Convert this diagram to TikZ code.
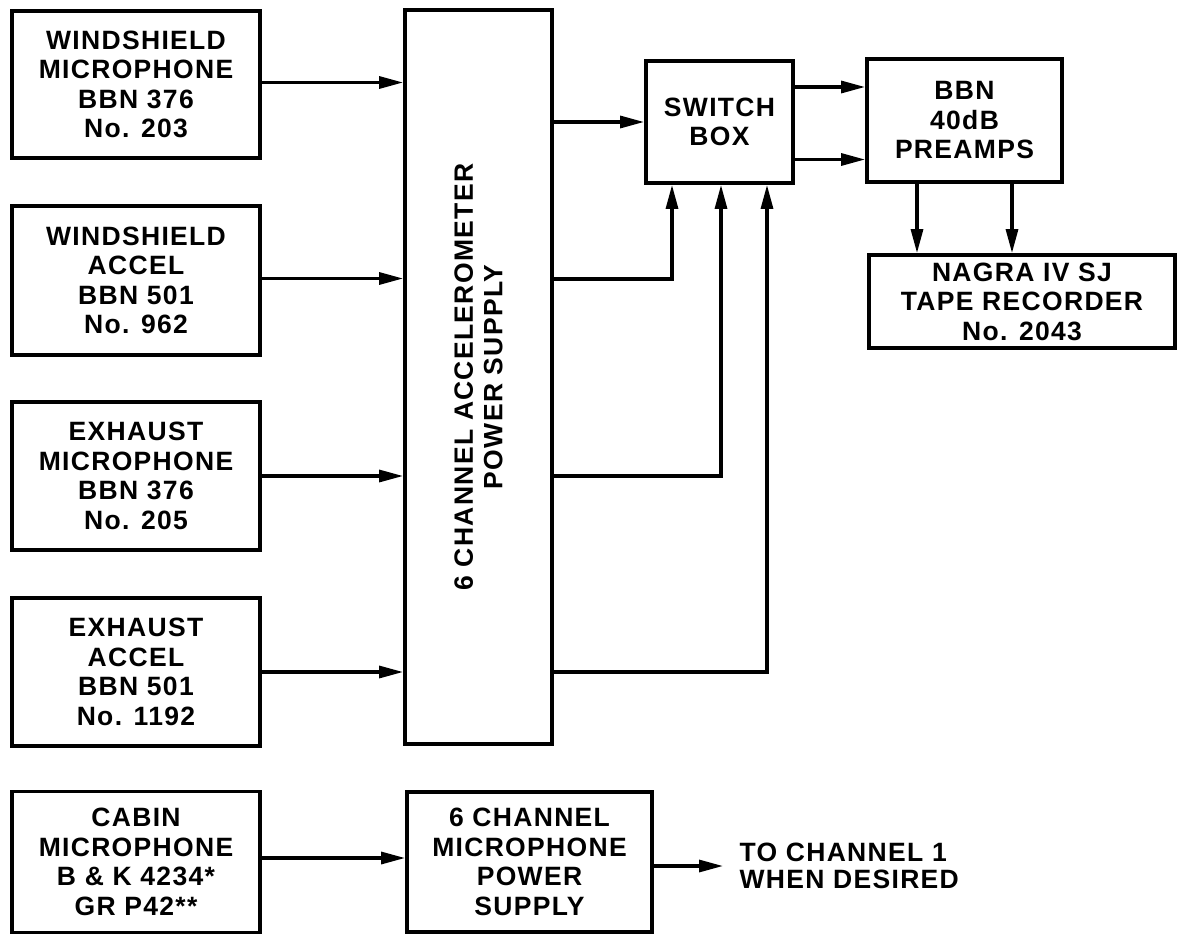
\documentclass[tikz,border=0pt]{standalone}
\usepackage{fontspec}
\setmainfont{Liberation Sans}[LetterSpace=5]
\usetikzlibrary{arrows.meta,calc}
\begin{document}
\begin{tikzpicture}[x=1pt,y=-1pt,
  box/.style={draw, line width=3.8pt, rectangle, inner sep=0pt, align=center,
    font=\bfseries\fontsize{26.5}{29.5}\selectfont},
  arr/.style={line width=3.2pt, -{Triangle[length=24pt,width=12pt]}},
  ln/.style={line width=3.2pt}]
\useasboundingbox (0,0) rectangle (1179,940);
% left column
\node[box, minimum width=248pt, minimum height=147pt] (wm) at (136,84.5) {WINDSHIELD\\MICROPHONE\\BBN 376\\No. 203};
\node[box, minimum width=248pt, minimum height=149pt] (wa) at (136,280.5) {WINDSHIELD\\ACCEL\\BBN 501\\No. 962};
\node[box, minimum width=248pt, minimum height=148pt] (em) at (136,476) {EXHAUST\\MICROPHONE\\BBN 376\\No. 205};
\node[box, minimum width=248pt, minimum height=148pt] (ea) at (136,672) {EXHAUST\\ACCEL\\BBN 501\\No. 1192};
\node[box, minimum width=248pt, minimum height=141pt] (cb) at (136,862) {CABIN\\MICROPHONE\\B \& K 4234*\\GR P42**};
% accelerometer power supply
\node[box, minimum width=147pt, minimum height=734pt] (ps) at (478.5,377) {};
\node[font=\bfseries\fontsize{26.5}{29.5}\selectfont, align=center, rotate=90] (pst) at (ps.center) {6 CHANNEL ACCELEROMETER\\POWER SUPPLY};
% microphone power supply
\node[box, minimum width=245pt, minimum height=140pt] (mps) at (529.5,862) {6 CHANNEL\\MICROPHONE\\POWER\\SUPPLY};
% switch box, preamps, recorder
\node[box, minimum width=147pt, minimum height=122pt] (sw) at (719.5,122) {SWITCH\\BOX};
\node[box, minimum width=195pt, minimum height=123pt] (pre) at (964.5,120.5) {BBN\\40dB\\PREAMPS};
\node[box, minimum width=306pt, minimum height=93pt] (ng) at (1022,301.5) {NAGRA IV SJ\\TAPE RECORDER\\No. 2043};
% output text
\coordinate (out) at (723,866);
\node[font=\bfseries\fontsize{26.5}{27}\selectfont, align=left, anchor=west] (tc) at (736,866) {TO CHANNEL 1\\WHEN DESIRED};
% connectors
\draw[arr] ([yshift=2pt]wm.east) -- ([yshift=2pt]wm.east -| ps.west);
\draw[arr] ([yshift=2pt]wa.east) -- ([yshift=2pt]wa.east -| ps.west);
\draw[arr] (em.east) -- (em.east -| ps.west);
\draw[arr] (ea.east) -- (ea.east -| ps.west);
\draw[arr] (sw.west -| ps.east) -- (sw.west);
\draw[arr] ([yshift=1.5pt]wa.east -| ps.east) -| ([xshift=-47.5pt]sw.south);
\draw[arr] (em.east -| ps.east) -| ([xshift=1.5pt]sw.south);
\draw[arr] (ea.east -| ps.east) -| ([xshift=47.5pt]sw.south);
\draw[arr] ([yshift=-37.5pt]sw.east) -- ([yshift=-37.5pt]sw.east -| pre.west);
\draw[arr] ([yshift=35pt]sw.east) -- ([yshift=35pt]sw.east -| pre.west);
\draw[arr] ([xshift=-47.5pt]pre.south) -- ([xshift=-47.5pt]pre.south |- ng.north);
\draw[arr] ([xshift=47.5pt]pre.south) -- ([xshift=47.5pt]pre.south |- ng.north);
\draw[arr] ([yshift=4pt]cb.east) -- ([yshift=4pt]cb.east -| mps.west);
\draw[arr] (mps.east |- out) -- (out);
\end{tikzpicture}
\end{document}
